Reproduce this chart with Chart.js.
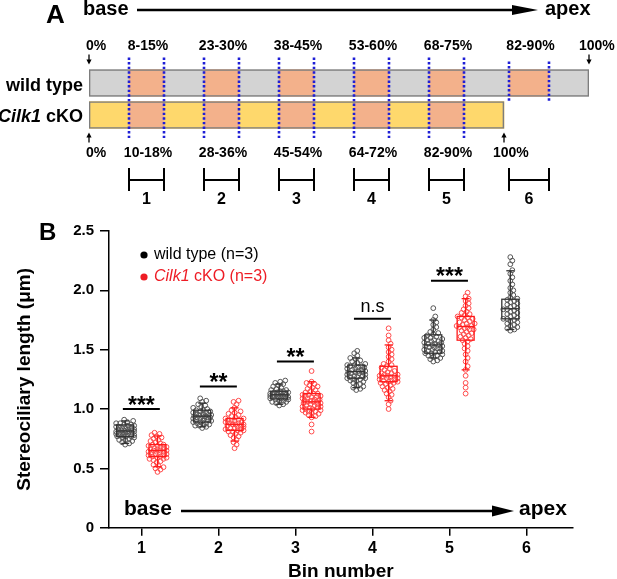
<!DOCTYPE html>
<html><head><meta charset="utf-8">
<script src="https://cdn.jsdelivr.net/npm/chart.js@4/dist/chart.umd.min.js"></script>
<style>
html,body{margin:0;padding:0;background:#fff;}
#wrap{position:relative;width:617px;height:579px;overflow:hidden;}
canvas{position:absolute;left:0;top:0;}
</style></head><body>
<div id="wrap">
<canvas id="cB" width="617" height="579"></canvas>
<canvas id="cA" width="617" height="220"></canvas>
</div>
<script>
// ===================== DATA =====================
// Panel A (schematic of bin positions along the cochlea, % of wild-type length as drawn)
const rowLabels = ['wild type', 'Cilk1 cKO'];
const wtBinRanges = [[8,15],[23,30],[38,45],[53,60],[68,75],[84,92]];
const koBinCount = 5;
const koLengthPct = 83;
const wtRangeLabels = ['8-15%','23-30%','38-45%','53-60%','68-75%','82-90%'];
const koRangeLabels = ['10-18%','28-36%','45-54%','64-72%','82-90%'];
const binNames = ['1','2','3','4','5','6'];

// Panel B
const bins = [1,2,3,4,5,6];
const xTickLabels = ['1','2','3','4','5','6'];
const yTicks = [0,0.5,1.0,1.5,2.0,2.5];
const yTickLabels = ['0','0.5','1.0','1.5','2.0','2.5'];

const wtBin1 = [0.70,0.71,0.72,0.73,0.74,0.74,0.75,0.76,0.76,0.77,0.77,0.77,0.78,0.78,0.78,0.79,0.79,0.79,0.80,0.80,0.80,0.81,0.81,0.81,0.81,0.82,0.82,0.82,0.83,0.83,0.83,0.84,0.84,0.84,0.85,0.85,0.86,0.86,0.87,0.87,0.88,0.88,0.89,0.90,0.91];
const wtBin2 = [0.84,0.85,0.86,0.86,0.87,0.87,0.88,0.88,0.89,0.89,0.90,0.90,0.91,0.91,0.92,0.92,0.92,0.93,0.93,0.93,0.94,0.94,0.94,0.95,0.95,0.95,0.96,0.96,0.97,0.97,0.98,0.98,0.99,0.99,1.00,1.01,1.02,1.03,1.04,1.06,1.07,1.09];
const wtBin3 = [1.03,1.04,1.05,1.06,1.06,1.07,1.07,1.08,1.08,1.09,1.09,1.09,1.10,1.10,1.10,1.11,1.11,1.11,1.12,1.12,1.12,1.12,1.13,1.13,1.13,1.14,1.14,1.14,1.15,1.15,1.16,1.16,1.17,1.18,1.19,1.20,1.21,1.22,1.23,1.24];
const wtBin4 = [1.16,1.17,1.18,1.19,1.20,1.21,1.22,1.23,1.24,1.24,1.25,1.25,1.26,1.26,1.27,1.27,1.28,1.28,1.29,1.29,1.30,1.30,1.31,1.31,1.31,1.32,1.32,1.33,1.33,1.34,1.34,1.35,1.35,1.36,1.36,1.37,1.37,1.38,1.39,1.40,1.41,1.42,1.43,1.45,1.47,1.49];
const wtBin5 = [1.40,1.41,1.42,1.43,1.44,1.45,1.45,1.46,1.47,1.47,1.48,1.48,1.49,1.49,1.50,1.50,1.51,1.51,1.52,1.52,1.53,1.53,1.54,1.54,1.55,1.55,1.56,1.56,1.57,1.57,1.58,1.58,1.59,1.60,1.60,1.61,1.62,1.63,1.64,1.65,1.67,1.69,1.71,1.73,1.75,1.78,1.85];
const wtBin6 = [1.66,1.67,1.68,1.69,1.70,1.71,1.72,1.73,1.74,1.75,1.76,1.76,1.77,1.78,1.79,1.80,1.81,1.82,1.83,1.84,1.84,1.85,1.86,1.87,1.88,1.89,1.90,1.91,1.92,1.93,1.94,1.96,1.98,2.00,2.02,2.05,2.08,2.11,2.14,2.17,2.22,2.25,2.28];

const koBin1 = [0.47,0.49,0.50,0.51,0.52,0.53,0.55,0.56,0.57,0.58,0.58,0.59,0.59,0.60,0.60,0.61,0.61,0.62,0.62,0.63,0.63,0.64,0.64,0.64,0.65,0.65,0.65,0.66,0.66,0.67,0.67,0.68,0.68,0.69,0.69,0.70,0.70,0.71,0.72,0.73,0.74,0.75,0.76,0.77,0.78,0.79,0.80];
const koBin2 = [0.67,0.70,0.72,0.74,0.76,0.77,0.78,0.79,0.80,0.81,0.81,0.82,0.82,0.83,0.83,0.84,0.84,0.85,0.85,0.86,0.86,0.87,0.87,0.87,0.88,0.88,0.89,0.89,0.90,0.90,0.91,0.91,0.92,0.92,0.93,0.94,0.95,0.96,0.97,0.98,0.99,1.01,1.04,1.06,1.07];
const koBin3 = [0.81,0.87,0.93,0.94,0.95,0.96,0.97,0.97,0.98,0.98,0.99,0.99,1.00,1.00,1.01,1.01,1.02,1.02,1.03,1.03,1.04,1.04,1.05,1.05,1.06,1.06,1.06,1.07,1.07,1.08,1.08,1.09,1.09,1.10,1.10,1.11,1.11,1.12,1.12,1.13,1.13,1.14,1.15,1.16,1.17,1.18,1.19,1.20,1.21,1.22,1.23,1.32];
const koBin4 = [1.00,1.04,1.07,1.10,1.12,1.13,1.15,1.16,1.17,1.18,1.19,1.20,1.21,1.22,1.22,1.23,1.23,1.24,1.24,1.25,1.25,1.26,1.26,1.27,1.27,1.28,1.28,1.28,1.29,1.29,1.30,1.30,1.31,1.32,1.33,1.34,1.35,1.36,1.37,1.38,1.40,1.42,1.44,1.46,1.48,1.50,1.52,1.55,1.58,1.62,1.68];
const koBin5 = [1.13,1.18,1.22,1.28,1.33,1.36,1.40,1.43,1.46,1.49,1.51,1.53,1.55,1.57,1.58,1.59,1.60,1.61,1.62,1.63,1.64,1.65,1.66,1.67,1.67,1.68,1.69,1.69,1.70,1.70,1.71,1.72,1.72,1.73,1.74,1.75,1.76,1.77,1.77,1.78,1.79,1.80,1.81,1.82,1.84,1.85,1.87,1.89,1.91,1.93,1.95,1.98];

const wtValues = [wtBin1, wtBin2, wtBin3, wtBin4, wtBin5, wtBin6];
const koValues = [koBin1, koBin2, koBin3, koBin4, koBin5];

// box plot statistics
const wtQ1     = [0.767,0.89,1.085,1.26,1.47,1.76];
const wtMedian = [0.815,0.94,1.12,1.315,1.54,1.845];
const wtQ3     = [0.866,0.99,1.15,1.37,1.625,1.925];
const wtLow    = [0.71,0.85,1.04,1.18,1.43,1.67];
const wtHigh   = [0.90,1.05,1.21,1.43,1.75,2.165];
const koQ1     = [0.60,0.82,1.00,1.23,1.58];
const koMedian = [0.65,0.87,1.06,1.28,1.695];
const koQ3     = [0.70,0.92,1.13,1.36,1.78];
const koLow    = [0.514,0.73,0.93,1.07,1.33];
const koHigh   = [0.773,1.01,1.23,1.54,1.93];

// significance
const sigBins   = [1,2,3,4,5];
const sigHeight = [1.00,1.19,1.40,1.76,2.08];
const sigLabels = ['***','**','**','n.s','***'];

// ===================== STYLE =====================
const FONT = "'Liberation Sans', Arial, Helvetica, sans-serif";
const SIDE = 0.21;
const WT_PT = '#555555', KO_PT = '#ff4b4b';
const WT_BOX = '#333333', KO_BOX = '#ff1a1a';

function line(ctx, x1, y1, x2, y2) { ctx.beginPath(); ctx.moveTo(x1, y1); ctx.lineTo(x2, y2); ctx.stroke(); }
function tri(ctx, pts) { ctx.beginPath(); ctx.moveTo(pts[0], pts[1]); ctx.lineTo(pts[2], pts[3]); ctx.lineTo(pts[4], pts[5]); ctx.closePath(); ctx.fill(); }

// ===================== PANEL A =====================
const panelAPlugin = {
  id: 'panelA',
  afterDatasetsDraw(chart) {
    const { ctx, scales: { x, y } } = chart;
    const px = v => x.getPixelForValue(v);
    const yW = y.getPixelForValue(0), yK = y.getPixelForValue(1);
    const half = 13.5;
    ctx.save();
    ctx.fillStyle = '#000'; ctx.strokeStyle = '#000';
    ctx.textBaseline = 'alphabetic';
    // header
    ctx.font = `bold 26px ${FONT}`; ctx.textAlign = 'left';
    ctx.fillText('A', 46, 23);
    ctx.font = `bold 20px ${FONT}`;
    ctx.fillText('base', 83, 15);
    ctx.fillText('apex', 545, 15);
    ctx.lineWidth = 2.5; line(ctx, 137, 10, 516, 10);
    tri(ctx, [512, 5, 538, 10, 512, 15]);

    // row labels
    ctx.font = `bold 18px ${FONT}`; ctx.textAlign = 'right';
    ctx.fillText(rowLabels[0], 83, yW + 8);
    const parts = rowLabels[1].split(' ');
    const rest = ' ' + parts.slice(1).join(' ');
    ctx.fillText(rest, 83, yK + 7);
    const w = ctx.measureText(rest).width;
    ctx.font = `italic bold 18px ${FONT}`;
    ctx.fillText(parts[0], 83 - w, yK + 7);

    // dotted blue lines
    ctx.strokeStyle = '#1f1fd6'; ctx.lineWidth = 2.6; ctx.setLineDash([2.4, 2.2]);
    wtBinRanges.forEach((r, i) => {
      r.forEach(e => {
        if (i < koBinCount) line(ctx, px(e), yW - half - 12, px(e), yK + half + 11);
        else line(ctx, px(e), yW - half - 8, px(e), yW + half + 5.5);
      });
    });
    ctx.setLineDash([]);

    // percent labels
    ctx.fillStyle = '#000'; ctx.strokeStyle = '#000';
    ctx.font = `bold 14px ${FONT}`; ctx.textAlign = 'center'; ctx.textBaseline = 'middle';
    const topY = yW - half - 23, botY = yK + half + 25;
    wtBinRanges.forEach((r, i) => ctx.fillText(wtRangeLabels[i], (px(r[0]) + px(r[1])) / 2 + 1.5, topY));
    koRangeLabels.forEach((s, i) => { const r = wtBinRanges[i]; ctx.fillText(s, (px(r[0]) + px(r[1])) / 2 + 1.5, botY); });
    ctx.textAlign = 'left';
    ctx.fillText('0%', px(0) - 3, topY);
    ctx.fillText('100%', px(100) - 10, topY);
    ctx.fillText('0%', px(0) - 3, botY);
    ctx.fillText('100%', px(koLengthPct) - 11, botY);

    // small arrows
    ctx.lineWidth = 1.3;
    [px(0), px(100)].forEach(ax => { line(ctx, ax, yW - half - 15, ax, yW - half - 9); tri(ctx, [ax - 2.6, yW - half - 10, ax + 2.6, yW - half - 10, ax, yW - half - 5]); });
    [px(0), px(koLengthPct)].forEach(ax => { line(ctx, ax, yK + half + 14, ax, yK + half + 8); tri(ctx, [ax - 2.6, yK + half + 9, ax + 2.6, yK + half + 9, ax, yK + half + 4]); });

    // bin brackets + numbers
    ctx.lineWidth = 2;
    const bY = 180;
    wtBinRanges.forEach((r, i) => {
      const a = px(r[0]), b = px(r[1]);
      line(ctx, a, bY, b, bY);
      line(ctx, a, bY - 12, a, bY + 11);
      line(ctx, b, bY - 12, b, bY + 11);
      ctx.font = `bold 16px ${FONT}`; ctx.textAlign = 'center'; ctx.textBaseline = 'alphabetic';
      ctx.fillText(binNames[i], (a + b) / 2, bY + 24);
    });
    ctx.restore();
  }
};

const chartA = new Chart(document.getElementById('cA'), {
  type: 'bar',
  data: {
    labels: rowLabels,
    datasets: [
      { data: wtBinRanges.map(r => ({ x: r, y: rowLabels[0] })), backgroundColor: '#f3b18b', order: 2 },
      { data: wtBinRanges.slice(0, koBinCount).map(r => ({ x: r, y: rowLabels[1] })), backgroundColor: '#f3b18b', order: 2 },
      { data: [{ x: [0, 100], y: rowLabels[0] }], backgroundColor: '#d3d3d3', order: 3 },
      { data: [{ x: [0, koLengthPct], y: rowLabels[1] }], backgroundColor: '#fed86c', order: 3 },
      { data: [{ x: [0, 100], y: rowLabels[0] }, { x: [0, koLengthPct], y: rowLabels[1] }], backgroundColor: 'rgba(0,0,0,0)', borderColor: '#7d7d7d', borderWidth: 1, borderSkipped: false, order: 1 }
    ]
  },
  options: {
    indexAxis: 'y', responsive: false, animation: false, devicePixelRatio: 1,
    layout: { padding: { left: 89, right: 28, top: 67, bottom: 89 } },
    datasets: { bar: { grouped: false, barThickness: 27 } },
    scales: { x: { type: 'linear', min: 0, max: 100, display: false }, y: { type: 'category', display: false } },
    plugins: { legend: { display: false }, tooltip: { enabled: false } },
    events: []
  },
  plugins: [panelAPlugin]
});

// ===================== PANEL B =====================
const boxPlugin = {
  id: 'boxes',
  afterDatasetsDraw(chart) {
    const { ctx, scales: { x, y } } = chart;
    ctx.save();
    const drawBox = (cx, q1, med, q3, lo, hi, color) => {
      const p = x.getPixelForValue(cx), hw = 8.5, cw = 4;
      const Y = v => y.getPixelForValue(v);
      ctx.strokeStyle = color; ctx.lineWidth = 1.3;
      ctx.strokeRect(p - hw, Y(q3), 2 * hw, Y(q1) - Y(q3));
      line(ctx, p - hw, Y(med), p + hw, Y(med));
      line(ctx, p, Y(q3), p, Y(hi)); line(ctx, p - cw, Y(hi), p + cw, Y(hi));
      line(ctx, p, Y(q1), p, Y(lo)); line(ctx, p - cw, Y(lo), p + cw, Y(lo));
    };
    bins.forEach((b, i) => {
      drawBox(b - SIDE, wtQ1[i], wtMedian[i], wtQ3[i], wtLow[i], wtHigh[i], WT_BOX);
      if (i < koQ1.length) drawBox(b + SIDE, koQ1[i], koMedian[i], koQ3[i], koLow[i], koHigh[i], KO_BOX);
    });
    ctx.restore();
  },
  afterDraw(chart) {
    const { ctx, scales: { x, y }, chartArea } = chart;
    ctx.save();
    ctx.fillStyle = '#000'; ctx.strokeStyle = '#000';
    // panel letter
    ctx.font = `bold 24px ${FONT}`; ctx.textAlign = 'left'; ctx.textBaseline = 'alphabetic';
    ctx.fillText('B', 39, 240);
    // legend
    const lx = chartArea.left + 35, ly1 = chartArea.top + 24, ly2 = chartArea.top + 46;
    ctx.beginPath(); ctx.arc(lx, ly1, 3.6, 0, Math.PI * 2); ctx.fill();
    ctx.font = `16px ${FONT}`; ctx.textBaseline = 'middle';
    ctx.fillText('wild type (n=3)', lx + 10, ly1);
    ctx.fillStyle = '#ee1c25';
    ctx.beginPath(); ctx.arc(lx, ly2, 3.6, 0, Math.PI * 2); ctx.fill();
    ctx.font = `italic 16px ${FONT}`;
    ctx.fillText('Cilk1', lx + 10, ly2);
    const iw = ctx.measureText('Cilk1').width;
    ctx.font = `16px ${FONT}`;
    ctx.fillText(' cKO (n=3)', lx + 10 + iw, ly2);
    // significance
    ctx.fillStyle = '#000'; ctx.lineWidth = 2; ctx.textAlign = 'center'; ctx.textBaseline = 'alphabetic';
    sigBins.forEach((b, i) => {
      const yy = y.getPixelForValue(sigHeight[i]);
      line(ctx, x.getPixelForValue(b - 0.24), yy, x.getPixelForValue(b + 0.24), yy);
      if (sigLabels[i].includes('*')) { ctx.font = `bold 23px ${FONT}`; ctx.fillText(sigLabels[i], x.getPixelForValue(b), yy + 3.5); }
      else { ctx.font = `18px ${FONT}`; ctx.fillText(sigLabels[i], x.getPixelForValue(b), yy - 6.5); }
    });
    // base -> apex arrow
    const ay = y.getPixelForValue(0.14);
    ctx.font = `bold 21px ${FONT}`; ctx.textBaseline = 'middle'; ctx.textAlign = 'left';
    ctx.fillText('base', chartArea.left + 15, ay - 2);
    ctx.fillText('apex', chartArea.left + 410, ay - 2);
    ctx.lineWidth = 2.5; line(ctx, chartArea.left + 72, ay, chartArea.left + 390, ay);
    tri(ctx, [chartArea.left + 383, ay - 5.5, chartArea.left + 405, ay, chartArea.left + 383, ay + 5.5]);
    ctx.restore();
  }
};

function groupPoints(values, side) {
  const out = [];
  values.forEach((arr, i) => arr.forEach(v => out.push({ x: bins[i] + side, y: v })));
  return out;
}

const chartB = new Chart(document.getElementById('cB'), {
  type: 'scatter',
  data: {
    datasets: [
      { label: 'wild type (n=3)', data: groupPoints(wtValues, -SIDE), pointRadius: 2.4, borderWidth: 1, borderColor: WT_PT, backgroundColor: 'rgba(255,255,255,0)', pointHoverRadius: 2.4 },
      { label: 'Cilk1 cKO (n=3)', data: groupPoints(koValues, SIDE), pointRadius: 2.4, borderWidth: 1, borderColor: KO_PT, backgroundColor: 'rgba(255,255,255,0)', pointHoverRadius: 2.4 }
    ]
  },
  options: {
    responsive: false, animation: false, devicePixelRatio: 1, events: [],
    layout: { padding: { left: 10, right: 44.3, top: 231, bottom: 0 } },
    plugins: { legend: { display: false }, tooltip: { enabled: false } },
    scales: {
      x: {
        type: 'linear', min: 0.58, max: 6.6,
        afterBuildTicks: s => { s.ticks = bins.map(v => ({ value: v })); },
        afterFit: s => { s.height = 51.3; },
        grid: { drawOnChartArea: false, drawTicks: true, tickLength: 8, color: '#000', lineWidth: 1.5 },
        border: { display: true, color: '#000', width: 1.5 },
        ticks: { color: '#000', padding: 3, font: { family: FONT, size: 16, weight: 'bold' }, callback: (v, i) => xTickLabels[i] },
        title: { display: true, text: 'Bin number', color: '#000', padding: { top: 0, bottom: 0 }, font: { family: FONT, size: 19, weight: 'bold', lineHeight: 0.8 } }
      },
      y: {
        min: 0, max: 2.5,
        afterBuildTicks: s => { s.ticks = yTicks.map(v => ({ value: v })); },
        afterFit: s => { s.width = 99; },
        grid: { drawOnChartArea: false, drawTicks: true, tickLength: 9, color: '#000', lineWidth: 1.5 },
        border: { display: true, color: '#000', width: 1.5 },
        ticks: { color: '#000', padding: 6, font: { family: FONT, size: 15, weight: 'bold' }, callback: (v, i) => yTickLabels[i] },
        title: { display: true, text: 'Stereociliary length (μm)', color: '#000', padding: { top: 3, bottom: 0 }, font: { family: FONT, size: 19, weight: 'bold' } }
      }
    }
  },
  plugins: [boxPlugin]
});

// beeswarm-style horizontal spreading, computed in pixel space from the chart's scales
function layoutSwarm(chart) {
  const xs = chart.scales.x, ys = chart.scales.y;
  const pxPerUnit = xs.getPixelForValue(1) - xs.getPixelForValue(0);
  const MIN_D = 3.8, MAX_OFF = 9;
  const groups = [wtValues.map(a => ({ vals: a, side: -SIDE })), koValues.map(a => ({ vals: a, side: SIDE }))];
  groups.forEach((gs, di) => {
    const data = [];
    gs.forEach((g, gi) => {
      const placed = [];
      g.vals.forEach(v => {
        const py = ys.getPixelForValue(v);
        let best = 0, bestScore = -1, found = false;
        for (let k = 0; k <= MAX_OFF && !found; k++) {
          const cands = k === 0 ? [0] : [k, -k];
          for (const off of cands) {
            let md = Infinity;
            for (const p of placed) { const d = Math.hypot(p.x - off, p.y - py); if (d < md) md = d; }
            if (md >= MIN_D) { best = off; found = true; break; }
            if (md > bestScore + 0.01) { bestScore = md; best = off; }
          }
        }
        placed.push({ x: best, y: py });
        data.push({ x: bins[gi] + g.side + best / pxPerUnit, y: v });
      });
    });
    chart.data.datasets[di].data = data;
  });
  chart.update('none');
}
layoutSwarm(chartB);
</script>
</body></html>
